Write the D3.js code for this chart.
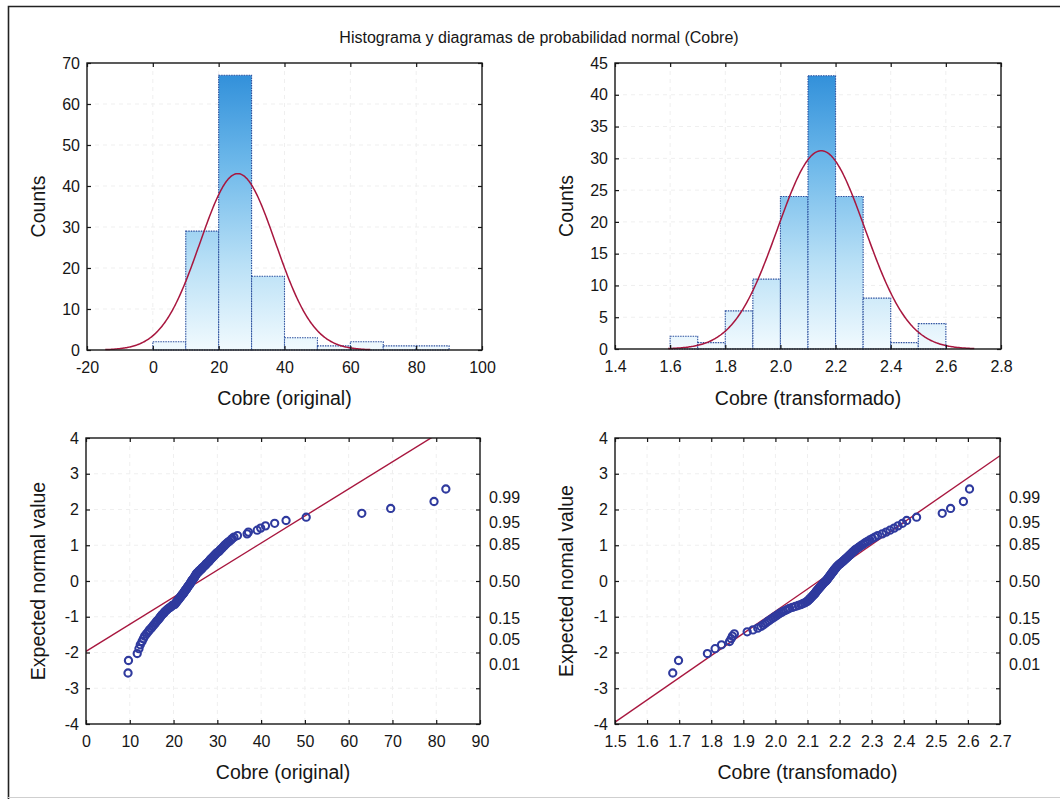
<!DOCTYPE html>
<html>
<head>
<meta charset="utf-8">
<script src="https://cdn.jsdelivr.net/npm/d3@7"></script>
<style>
  body { margin: 0; background: #fff; }
  svg { display: block; }
</style>
</head>
<body>
<svg id="chart" width="1060" height="799"></svg>
<script>
// ---------- data ----------
// Histogram of copper, original scale: bin edges and counts
const origBinEdges = [0, 10, 20, 30, 40, 50, 60, 70, 80, 90];
const origCounts = [2, 29, 67, 18, 3, 1, 2, 1, 1];
// Histogram of copper, transformed scale
const transBinEdges = [1.6, 1.7, 1.8, 1.9, 2.0, 2.1, 2.2, 2.3, 2.4, 2.5, 2.6];
const transCounts = [2, 1, 6, 11, 24, 43, 24, 8, 1, 4];

// Fitted normal curves drawn over the histograms
const origFitMean = 25.8, origFitSd = 11.5;
const transFitMean = 2.148, transFitSd = 0.1586;
const sampleSize = 124;

// Reference lines of the normal probability plots
const origLineMean = 26.0, origLineSd = 13.2;
const transLineMean = 2.136, transLineSd = 0.161;

// Expected normal values of the ordered sample (n = 124)
const normalScores = [
  -2.574,-2.224,-2.030,-1.893,-1.784,-1.692,-1.613,-1.543,-1.480,-1.422,
  -1.368,-1.319,-1.272,-1.228,-1.187,-1.147,-1.109,-1.072,-1.037,-1.003,
  -0.970,-0.938,-0.907,-0.877,-0.848,-0.820,-0.792,-0.764,-0.738,-0.711,
  -0.686,-0.660,-0.635,-0.611,-0.587,-0.563,-0.539,-0.516,-0.493,-0.471,
  -0.448,-0.426,-0.404,-0.382,-0.361,-0.339,-0.318,-0.297,-0.276,-0.255,
  -0.234,-0.214,-0.193,-0.173,-0.152,-0.132,-0.111,-0.091,-0.071,-0.050,
  -0.030,-0.010, 0.010, 0.030, 0.050, 0.071, 0.091, 0.111, 0.132, 0.152,
   0.173, 0.193, 0.214, 0.234, 0.255, 0.276, 0.297, 0.318, 0.339, 0.361,
   0.382, 0.404, 0.426, 0.448, 0.471, 0.493, 0.516, 0.539, 0.563, 0.587,
   0.611, 0.635, 0.660, 0.686, 0.711, 0.738, 0.764, 0.792, 0.820, 0.848,
   0.877, 0.907, 0.938, 0.970, 1.003, 1.037, 1.072, 1.109, 1.147, 1.187,
   1.228, 1.272, 1.319, 1.368, 1.422, 1.480, 1.543, 1.613, 1.692, 1.784,
   1.893, 2.030, 2.224, 2.574
];

// Ordered copper values, original scale
const origValues = [
   9.6,  9.7, 11.7, 12.1, 12.4, 12.8, 13.1, 13.4, 13.8, 14.2,
  14.5, 14.9, 15.2, 15.5, 15.8, 16.0, 16.3, 16.6, 16.8, 17.0,
  17.2, 17.4, 17.7, 17.9, 18.1, 18.4, 18.6, 18.9, 19.2, 19.5,
  19.7, 20.2, 20.4, 20.5, 20.7, 20.8, 21.0, 21.1, 21.3, 21.4,
  21.6, 21.7, 21.8, 22.0, 22.1, 22.3, 22.4, 22.5, 22.6, 22.7,
  22.9, 23.0, 23.1, 23.2, 23.3, 23.4, 23.6, 23.7, 23.8, 23.9,
  24.0, 24.1, 24.2, 24.3, 24.4, 24.6, 24.7, 24.8, 24.9, 25.0,
  25.1, 25.2, 25.3, 25.5, 25.7, 25.8, 26.0, 26.2, 26.4, 26.5,
  26.7, 26.9, 27.1, 27.3, 27.4, 27.6, 27.8, 28.0, 28.2, 28.3,
  28.5, 28.7, 28.9, 29.1, 29.3, 29.5, 29.7, 29.9, 30.3, 30.5,
  30.7, 31.0, 31.2, 31.5, 31.7, 32.0, 32.3, 32.7, 33.1, 33.4,
  33.8, 34.6, 36.8, 37.1, 39.1, 39.9, 41.0, 43.1, 45.7, 50.3,
  63.0, 69.6, 79.5, 82.2
];

// Ordered copper values, transformed scale
const transValues = [
  1.680,1.698,1.788,1.812,1.832,1.857,1.862,1.866,1.872,1.912,
  1.930,1.945,1.955,1.962,1.968,1.974,1.980,1.986,1.992,1.997,
  2.003,2.008,2.013,2.019,2.025,2.032,2.038,2.044,2.053,2.062,
  2.071,2.079,2.085,2.091,2.096,2.100,2.103,2.105,2.108,2.110,
  2.113,2.115,2.117,2.120,2.122,2.124,2.126,2.127,2.129,2.131,
  2.133,2.135,2.137,2.139,2.141,2.143,2.145,2.147,2.149,2.151,
  2.153,2.156,2.158,2.160,2.162,2.163,2.165,2.167,2.169,2.170,
  2.172,2.174,2.175,2.177,2.179,2.181,2.182,2.184,2.186,2.188,
  2.190,2.192,2.194,2.197,2.200,2.203,2.206,2.209,2.212,2.215,
  2.218,2.221,2.224,2.227,2.230,2.233,2.236,2.239,2.242,2.246,
  2.249,2.254,2.259,2.264,2.269,2.275,2.280,2.287,2.294,2.302,
  2.310,2.319,2.333,2.345,2.357,2.370,2.382,2.396,2.409,2.440,
  2.520,2.546,2.586,2.605
];

// Tick values
const origHistXTicks = [-20, 0, 20, 40, 60, 80, 100];
const origHistYTicks = [0, 10, 20, 30, 40, 50, 60, 70];
const transHistXTicks = [1.4, 1.6, 1.8, 2.0, 2.2, 2.4, 2.6, 2.8];
const transHistYTicks = [0, 5, 10, 15, 20, 25, 30, 35, 40, 45];
const origQQXTicks = [0, 10, 20, 30, 40, 50, 60, 70, 80, 90];
const transQQXTicks = [1.5, 1.6, 1.7, 1.8, 1.9, 2.0, 2.1, 2.2, 2.3, 2.4, 2.5, 2.6, 2.7];
const qqYTicks = [-4, -3, -2, -1, 0, 1, 2, 3, 4];
// Cumulative probability labels on the right of the probability plots
const probLabels = ["0.01", "0.05", "0.15", "0.50", "0.85", "0.95", "0.99"];
const probScores = [-2.326, -1.645, -1.036, 0, 1.036, 1.645, 2.326];

// ---------- drawing ----------
const FONT = '"Liberation Sans", Arial, Helvetica, sans-serif';
const INK = "#161616";
const CURVE = "#a8173f";
const intFmt = d => String(d);          // plain hyphen for negatives
const oneDec = d => d.toFixed(1);
const svg = d3.select("#chart");
const defs = svg.append("defs");

// outer frame of the figure
svg.append("path")
  .attr("d", "M8.5,799 L8.5,6.5 L1060,6.5")
  .attr("fill", "none").attr("stroke", "#222").attr("stroke-width", 1.6);
svg.append("line")
  .attr("x1", 8).attr("x2", 1060).attr("y1", 797.5).attr("y2", 797.5)
  .attr("stroke", "#cfcfcf").attr("stroke-width", 1);

svg.append("text")
  .attr("x", 539).attr("y", 43)
  .attr("text-anchor", "middle")
  .attr("font-family", FONT).attr("font-size", 16).attr("fill", INK)
  .text("Histograma y diagramas de probabilidad normal (Cobre)");

function panel(box, xDomain, yDomain) {
  return {
    box,
    x: d3.scaleLinear().domain(xDomain).range([box.left, box.right]),
    y: d3.scaleLinear().domain(yDomain).range([box.bottom, box.top])
  };
}

function grid(p, xTicks, yTicks) {
  const g = svg.append("g")
    .attr("stroke", "#efefef").attr("stroke-width", 1).attr("stroke-dasharray", "4,4");
  g.selectAll(".gx").data(xTicks.slice(1, -1)).join("line")
    .attr("x1", d => p.x(d)).attr("x2", d => p.x(d))
    .attr("y1", p.box.top).attr("y2", p.box.bottom);
  g.selectAll(".gy").data(yTicks.slice(1, -1)).join("line")
    .attr("y1", d => p.y(d)).attr("y2", d => p.y(d))
    .attr("x1", p.box.left).attr("x2", p.box.right);
}

function styleAxis(g) {
  g.attr("font-family", FONT).attr("font-size", 16).attr("color", INK);
  g.select(".domain").remove();
  g.selectAll("line").attr("stroke-width", 1.2);
}

function axes(p, xTicks, yTicks, xFmt, yFmt) {
  const b = p.box;
  svg.append("rect")
    .attr("x", b.left).attr("y", b.top)
    .attr("width", b.right - b.left).attr("height", b.bottom - b.top)
    .attr("fill", "none").attr("stroke", INK).attr("stroke-width", 1.4);
  svg.append("g").attr("transform", `translate(0,${b.bottom})`)
    .call(d3.axisBottom(p.x).tickValues(xTicks).tickFormat(xFmt).tickSize(-4).tickPadding(12))
    .call(styleAxis);
  svg.append("g").attr("transform", `translate(0,${b.top})`)
    .call(d3.axisTop(p.x).tickValues(xTicks).tickFormat(() => "").tickSize(-4))
    .call(styleAxis);
  svg.append("g").attr("transform", `translate(${b.left},0)`)
    .call(d3.axisLeft(p.y).tickValues(yTicks).tickFormat(yFmt).tickSize(-4).tickPadding(7))
    .call(styleAxis);
  svg.append("g").attr("transform", `translate(${b.right},0)`)
    .call(d3.axisRight(p.y).tickValues(yTicks).tickFormat(() => "").tickSize(-4))
    .call(styleAxis);
}

function titles(p, xTitle, yTitle, xTitleY, yTitleX) {
  const b = p.box;
  svg.append("text")
    .attr("x", (b.left + b.right) / 2).attr("y", xTitleY)
    .attr("text-anchor", "middle")
    .attr("font-family", FONT).attr("font-size", 19.5).attr("fill", INK)
    .text(xTitle);
  svg.append("text")
    .attr("transform", `translate(${yTitleX},${(b.top + b.bottom) / 2}) rotate(-90)`)
    .attr("text-anchor", "middle")
    .attr("font-family", FONT).attr("font-size", 19.5).attr("fill", INK)
    .text(yTitle);
}

function histogram(p, id, edges, counts, fitMean, fitSd, xTicks, yTicks, xFmt, xTitle, yTitle, yTitleX) {
  const b = p.box;
  const grad = defs.append("linearGradient")
    .attr("id", id).attr("gradientUnits", "userSpaceOnUse")
    .attr("x1", 0).attr("x2", 0).attr("y1", b.top).attr("y2", b.bottom);
  grad.append("stop").attr("offset", "0%").attr("stop-color", "#2a8bd8");
  grad.append("stop").attr("offset", "35%").attr("stop-color", "#6db8ea");
  grad.append("stop").attr("offset", "70%").attr("stop-color", "#b9e0f6");
  grad.append("stop").attr("offset", "100%").attr("stop-color", "#f1fafe");

  grid(p, xTicks, yTicks);

  svg.append("g").selectAll("rect").data(counts).join("rect")
    .attr("x", (d, i) => p.x(edges[i]))
    .attr("width", (d, i) => p.x(edges[i + 1]) - p.x(edges[i]))
    .attr("y", d => p.y(d))
    .attr("height", d => p.y(0) - p.y(d))
    .attr("fill", `url(#${id})`)
    .attr("stroke", "#2b4f9e").attr("stroke-width", 1.1)
    .attr("stroke-dasharray", "1.5,1");

  // expected counts under the fitted normal
  const bw = edges[1] - edges[0];
  const xs = d3.range(0, 301).map(k => fitMean - 3.5 * fitSd + k * (7 * fitSd / 300));
  const pts = xs.map(v => [v, sampleSize * bw * Math.exp(-0.5 * ((v - fitMean) / fitSd) ** 2) / (fitSd * Math.sqrt(2 * Math.PI))]);
  svg.append("path").datum(pts)
    .attr("d", d3.line().x(d => p.x(d[0])).y(d => p.y(d[1])))
    .attr("fill", "none").attr("stroke", CURVE).attr("stroke-width", 1.5);

  axes(p, xTicks, yTicks, xFmt, intFmt);
  titles(p, xTitle, yTitle, 405, yTitleX);
}

function probPlot(p, id, values, lineMean, lineSd, xTicks, xFmt, xTitle, yTitle, yTitleX) {
  const b = p.box;
  grid(p, xTicks, qqYTicks);

  defs.append("clipPath").attr("id", id)
    .append("rect").attr("x", b.left).attr("y", b.top)
    .attr("width", b.right - b.left).attr("height", b.bottom - b.top);

  // reference line: expected value = (x - mean) / sd
  const [x0, x1] = p.x.domain();
  svg.append("line")
    .attr("clip-path", `url(#${id})`)
    .attr("x1", p.x(x0)).attr("y1", p.y((x0 - lineMean) / lineSd))
    .attr("x2", p.x(x1)).attr("y2", p.y((x1 - lineMean) / lineSd))
    .attr("stroke", CURVE).attr("stroke-width", 1.4);

  svg.append("g").selectAll("circle").data(values).join("circle")
    .attr("cx", d => p.x(d))
    .attr("cy", (d, i) => p.y(normalScores[i]))
    .attr("r", 3.6)
    .attr("fill", "none").attr("stroke", "#2f3a9e").attr("stroke-width", 2.1);

  axes(p, xTicks, qqYTicks, xFmt, intFmt);
  svg.append("g").attr("transform", `translate(${b.right},0)`)
    .call(d3.axisRight(p.y).tickValues(probScores).tickFormat((d, i) => probLabels[i]).tickSize(0).tickPadding(9))
    .call(styleAxis);
  titles(p, xTitle, yTitle, 779, yTitleX);
}

const pHistOrig = panel({ left: 87, right: 482, top: 63, bottom: 350 }, [-20, 100], [0, 70]);
const pHistTrans = panel({ left: 615, right: 1001, top: 63, bottom: 349 }, [1.4, 2.8], [0, 45]);
const pQQOrig = panel({ left: 86, right: 480, top: 438, bottom: 724 }, [0, 90], [-4, 4]);
const pQQTrans = panel({ left: 615, right: 1000, top: 438, bottom: 724 }, [1.5, 2.7], [-4, 4]);

histogram(pHistOrig, "gradOrig", origBinEdges, origCounts, origFitMean, origFitSd,
  origHistXTicks, origHistYTicks, intFmt, "Cobre (original)", "Counts", 45);
histogram(pHistTrans, "gradTrans", transBinEdges, transCounts, transFitMean, transFitSd,
  transHistXTicks, transHistYTicks, oneDec, "Cobre (transformado)", "Counts", 573);
probPlot(pQQOrig, "clipOrig", origValues, origLineMean, origLineSd,
  origQQXTicks, intFmt, "Cobre (original)", "Expected normal value", 45);
probPlot(pQQTrans, "clipTrans", transValues, transLineMean, transLineSd,
  transQQXTicks, oneDec, "Cobre (transfomado)", "Expected nomal value", 573);
</script>
</body>
</html>
